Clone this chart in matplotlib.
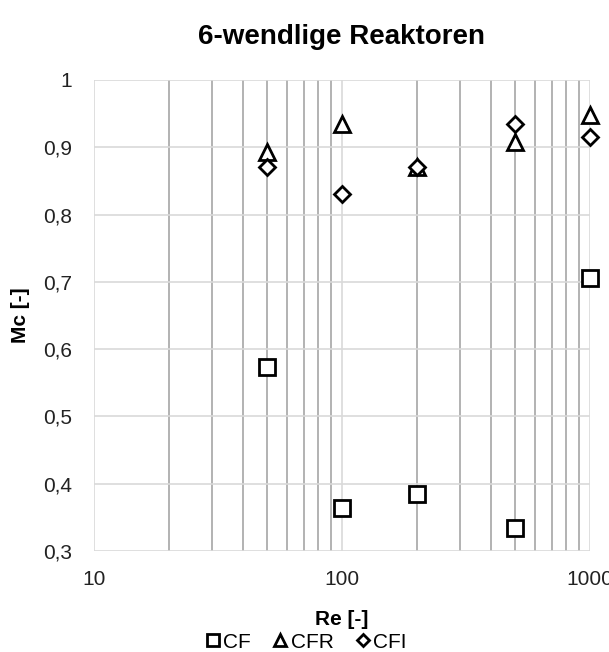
import numpy as np
import matplotlib.pyplot as plt
from matplotlib.ticker import FixedLocator, FuncFormatter, LogLocator, NullFormatter

plt.rcParams['font.family'] = ['Liberation Sans', 'DejaVu Sans']

re = [50, 100, 200, 500, 1000]
cf = [0.573, 0.364, 0.385, 0.334, 0.706]
cfr = [0.893, 0.935, 0.870, 0.908, 0.948]
cfi = [0.870, 0.830, 0.870, 0.935, 0.915]

fig = plt.figure(figsize=(6.09, 6.52), dpi=100)
ax = fig.add_axes([94/609, 1-551/652, (590-94)/609, (551-80)/652])

mk = dict(ls='none', mfc='white', mec='black', mew=2, clip_on=False, zorder=5)
ax.plot(re, cf, marker='s', ms=11, label='CF', **mk)
ax.plot(re, cfr, marker='^', ms=11, label='CFR', **mk)
ax.plot(re, cfi, marker='D', ms=8, label='CFI', **mk)

ax.set_xscale('log')
ax.set_xlim(10, 1000)
ax.set_ylim(0.3, 1.0)
ax.yaxis.set_major_locator(FixedLocator(np.arange(0.3, 1.01, 0.1)))
ax.yaxis.set_major_formatter(FuncFormatter(lambda v, p: ('%.1f' % v).replace('.', ',') if v < 0.999 else '1'))
ax.xaxis.set_major_locator(FixedLocator([10, 100, 1000]))
ax.xaxis.set_major_formatter(FuncFormatter(lambda v, p: '%d' % v))
ax.xaxis.set_minor_locator(LogLocator(base=10, subs=np.arange(2, 10)))
ax.xaxis.set_minor_formatter(NullFormatter())

ax.grid(True, which='major', color='#d9d9d9', lw=1.2)
ax.grid(True, which='minor', axis='x', color='#a6a6a6', lw=1.2)
ax.set_axisbelow(True)
for s in ax.spines.values():
    s.set_visible(False)
ax.tick_params(which='both', length=0, labelsize=15, colors='#222222')
ax.tick_params(axis='y', pad=16)
ax.tick_params(axis='x', pad=14)

ax.set_title('6-wendlige Reaktoren', fontsize=20, fontweight='bold', pad=26)
ax.set_xlabel('Re [-]', fontsize=15, fontweight='bold', labelpad=15)
ax.set_ylabel('Mc [-]', fontsize=15, fontweight='bold', labelpad=9)

leg = fig.legend(loc='center', bbox_to_anchor=(0.5, 1-642/652), ncol=3, frameon=False,
                 fontsize=15, handletextpad=0.0, columnspacing=0.9, markerscale=0.75,
                 handlelength=1.0, borderpad=0)

fig.savefig('out.png', dpi=100)
